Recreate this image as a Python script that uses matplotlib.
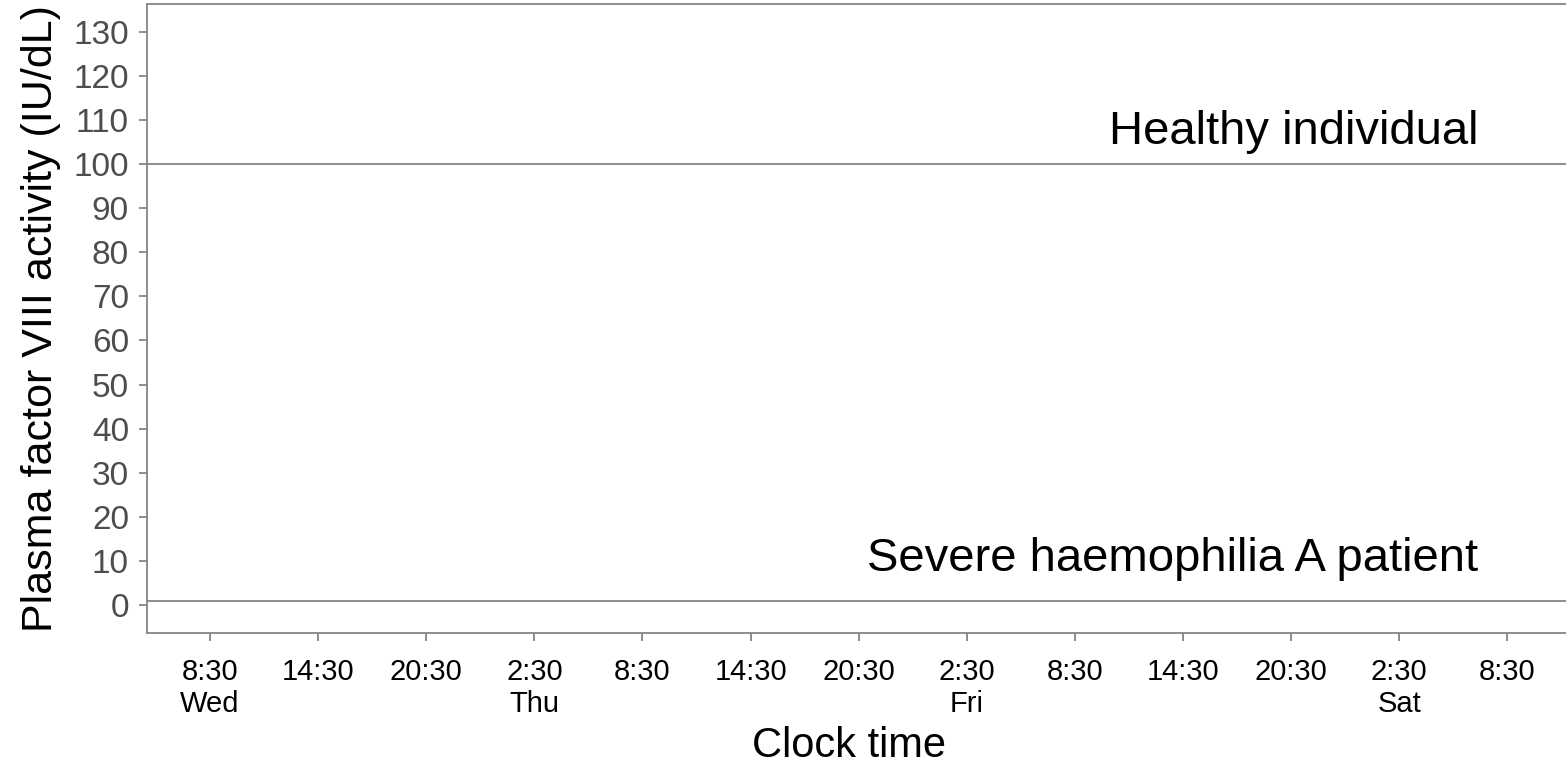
import matplotlib.pyplot as plt

plt.rcParams['font.family'] = ['Liberation Sans', 'DejaVu Sans']

# Heures écoulées depuis mercredi 8:30, une graduation toutes les 6 h
heures = [0, 6, 12, 18, 24, 30, 36, 42, 48, 54, 60, 66, 72]
horaires = ["8:30", "14:30", "20:30", "2:30", "8:30", "14:30", "20:30",
            "2:30", "8:30", "14:30", "20:30", "2:30", "8:30"]
jours = ["Wed", "", "", "Thu", "", "", "", "Fri", "", "", "", "Sat", ""]

# Niveaux de facteur VIII (UI/dL)
niveau_sain = 100
niveau_severe = 1
graduations_y = list(range(0, 140, 10))

gris = '#858585'

fig = plt.figure(figsize=(15.66, 7.65), dpi=100)
ax = fig.add_axes([0.0939, 0.1725, 0.9061, 0.8223])

# Lignes de référence
ax.axhline(niveau_sain, color=gris, linewidth=1.3)
ax.axhline(niveau_severe, color=gris, linewidth=1.3)

ax.text(70.4, 104.6, "Healthy individual", fontsize=34,
        ha='right', va='baseline', color='black')
ax.text(70.4, 7.7, "Severe haemophilia A patient", fontsize=34,
        ha='right', va='baseline', color='black')

ax.set_xlim(-3.5, 75.26)
ax.set_ylim(-6.35, 136.3)

etiquettes = [h + ("\n" + j if j else "") for h, j in zip(horaires, jours)]
ax.set_xticks(heures)
ax.set_xticklabels(etiquettes, fontsize=21, color='black',
                   va='top', linespacing=1.2)
ax.set_yticks(graduations_y)
ax.set_yticklabels([str(v) for v in graduations_y], fontsize=24,
                   color='#4d4d4d')

ax.tick_params(axis='both', length=6, width=1.3, color=gris)
ax.tick_params(axis='x', pad=12)
ax.tick_params(axis='y', pad=7)

for cote in ['left', 'bottom', 'top']:
    ax.spines[cote].set_color(gris)
    ax.spines[cote].set_linewidth(1.3)
ax.spines['right'].set_visible(False)

ax.set_xlabel("Clock time", fontsize=30)
ax.xaxis.set_label_coords(0.495, -0.148)
ax.set_ylabel("Plasma factor VIII activity (IU/dL)", fontsize=31,
              labelpad=9)

fig.savefig("out.png", dpi=100)
